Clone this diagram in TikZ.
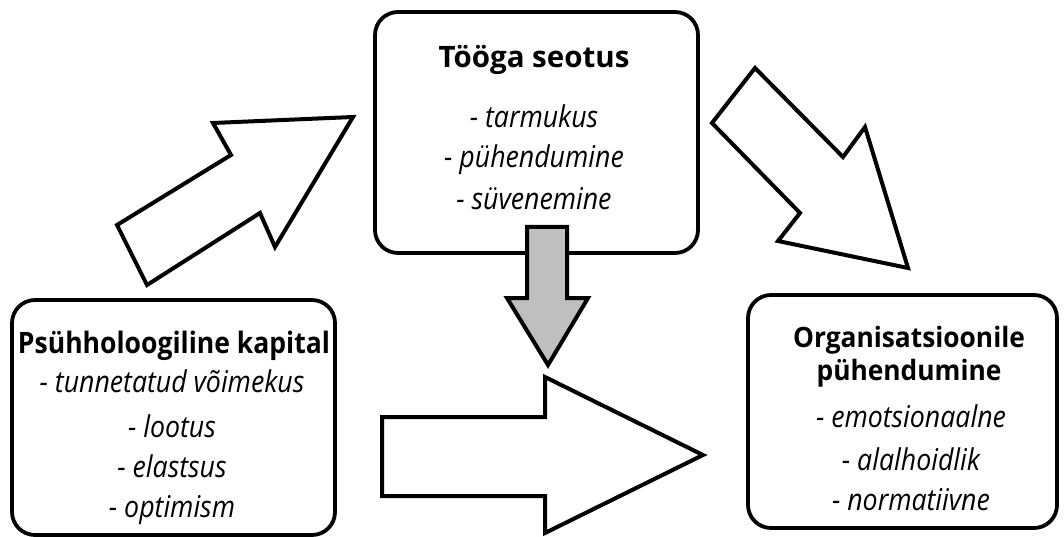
\documentclass[tikz,border=0pt]{standalone}
\usepackage{fontspec}
\setmainfont{Open Sans}
% heading and list fonts, narrowed a little
\newfontfamily\headA{Open Sans}[FakeStretch=0.90]
\newfontfamily\headB{Open Sans}[FakeStretch=1.00]
\newfontfamily\headC{Open Sans}[FakeStretch=0.94]
\newfontfamily\listfont{Open Sans}[FakeStretch=0.89]
\begin{document}
\begin{tikzpicture}[x=1pt,y=-1pt,
  box/.style={draw, line width=3.8pt, rounded corners=23pt, fill=white, inner sep=0pt},
  blockarrow/.style={draw, line width=4pt, line join=miter, fill=white},
  grayarrow/.style={blockarrow, fill=black!25},
  title/.style={font=\fontsize{29.5}{32}\selectfont\bfseries, anchor=base, inner sep=0pt},
  item/.style={font=\listfont\fontsize{30}{32}\selectfont\itshape, anchor=base, inner sep=0pt}]
\fill[white] (0,0) rectangle (1064,537);
\useasboundingbox (0,0) rectangle (1064,537);

% boxes
\node[box, minimum width=323pt, minimum height=235pt] (psy) at (173.5,417.5) {};
\node[box, minimum width=323pt, minimum height=241pt] (job) at (536.5,132.5) {};
\node[box, minimum width=309pt, minimum height=233pt] (org) at (902.5,411.5) {};

% block arrows
\draw[blockarrow] (117,225) -- (231,155) -- (213,123) -- (353,117) -- (275,247) -- (260,213) -- (147,285) -- cycle;
\draw[blockarrow] (755,68) -- (843,157) -- (865,127) -- (908,268) -- (778,241) -- (800,213) -- (712,123) -- cycle;
\draw[grayarrow] (527,227) -- (567,227) -- (567,298) -- (588,298) -- (548,365) -- (507,298) -- (527,298) -- cycle;
\draw[blockarrow] (382,417) -- (545,417) -- (545,377) -- (703,455) -- (545,533) -- (545,496) -- (382,496) -- cycle;

% texts
\node[title, font=\headA\fontsize{29.5}{32}\selectfont\bfseries] (psyT) at (174,353) {Psühholoogiline kapital};
\node[item] (psy1) at (172,392) {- tunnetatud võimekus};
\node[item] (psy2) at (172,437) {- lootus};
\node[item] (psy3) at (172,477) {- elastsus};
\node[item] (psy4) at (172,517) {- optimism};

\node[title, font=\headB\fontsize{29.5}{32}\selectfont\bfseries] (jobT) at (534,68) {Tööga seotus};
\node[item] (job1) at (534,128) {- tarmukus};
\node[item] (job2) at (534,168) {- pühendumine};
\node[item] (job3) at (534,210) {- süvenemine};

\node[title, font=\headC\fontsize{28}{32}\selectfont\bfseries] (orgT) at (909,347) {Organisatsioonile};
\node[title, font=\headC\fontsize{28}{32}\selectfont\bfseries] (orgT2) at (909,380) {pühendumine};
\node[item] (org1) at (911,427) {- emotsionaalne};
\node[item] (org2) at (911,470) {- alalhoidlik};
\node[item] (org3) at (911,510) {- normatiivne};
\end{tikzpicture}
\end{document}
